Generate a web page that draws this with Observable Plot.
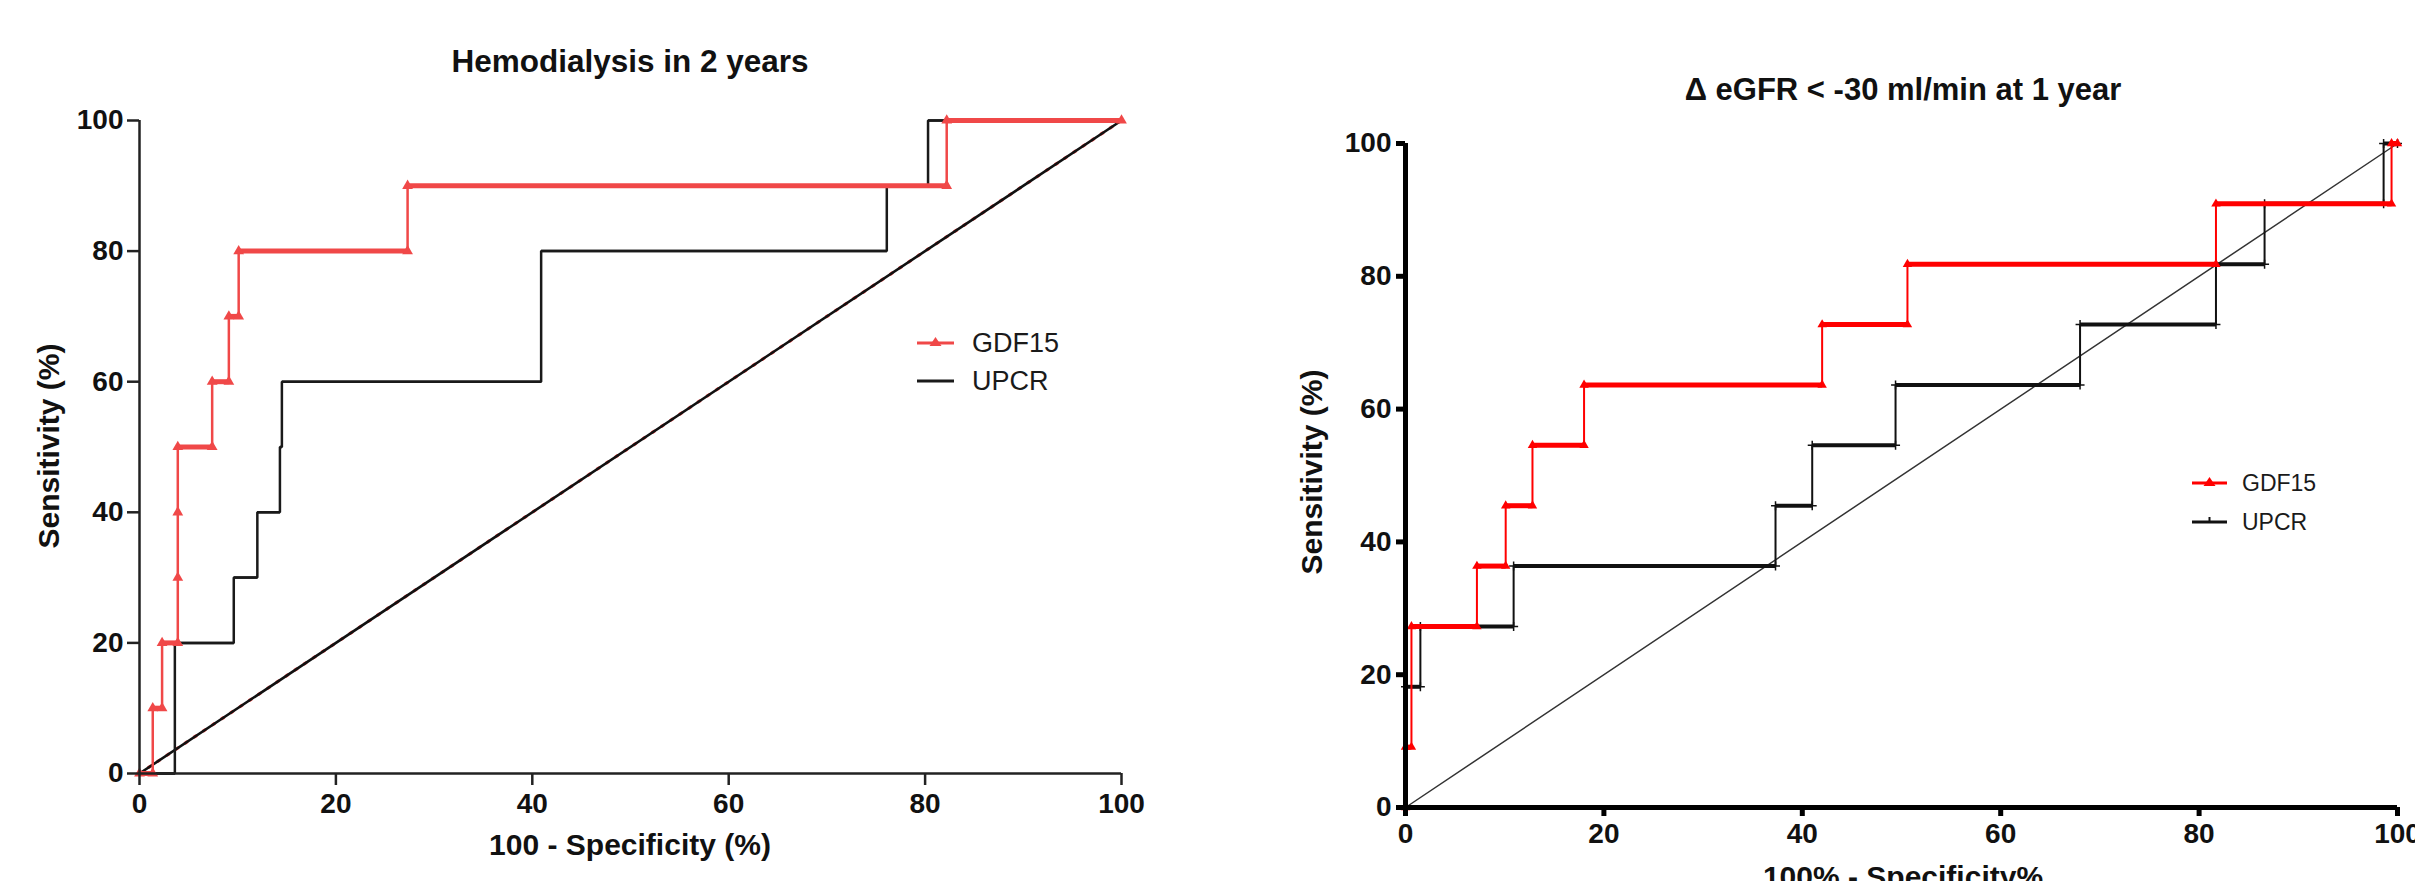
<!DOCTYPE html>
<html><head><meta charset="utf-8">
<script src="https://cdn.jsdelivr.net/npm/d3@7"></script>
<script src="https://cdn.jsdelivr.net/npm/@observablehq/plot@0.6"></script>
<style>
html,body{margin:0;padding:0;background:#fff;overflow:hidden;}
#root{position:relative;width:2415px;height:881px;font-family:"Liberation Sans",Arial,sans-serif;color:#111;}
.abs{position:absolute;white-space:nowrap;line-height:1;}
.panel{position:absolute;top:0;}
</style></head>
<body><div id="root"></div>
<script>
// ---------- DATA ----------
const axisTicks = [0, 20, 40, 60, 80, 100];
const seriesNames = ["GDF15", "UPCR"];
const diagonal = [0, 100];

// Panel 1: Hemodialysis in 2 years (100 - specificity %, sensitivity %)
const hdGdf15Fpr = [0, 1.35, 1.35, 2.3, 2.3, 3.9, 3.9, 3.9, 3.9, 7.4, 7.4, 9.1, 9.1, 10.1, 10.1, 27.3, 27.3, 82.2, 82.2, 100];
const hdGdf15Tpr = [0, 0, 10, 10, 20, 20, 30, 40, 50, 50, 60, 60, 70, 70, 80, 80, 90, 90, 100, 100];
const hdUpcrFpr = [0, 3.6, 3.6, 9.6, 9.6, 12.0, 12.0, 14.3, 14.3, 14.5, 14.5, 40.9, 40.9, 76.1, 76.1, 80.3, 80.3, 100];
const hdUpcrTpr = [0, 0, 20, 20, 30, 30, 40, 40, 50, 50, 60, 60, 80, 80, 90, 90, 100, 100];

// Panel 2: Δ eGFR < -30 ml/min at 1 year
const egGdf15Fpr = [0, 0, 0.6, 0.6, 7.2, 7.2, 10.1, 10.1, 12.8, 12.8, 18.0, 18.0, 42.0, 42.0, 50.6, 50.6, 81.7, 81.7, 99.4, 99.4, 100];
const egGdf15Tpr = [0, 9.09, 9.09, 27.27, 27.27, 36.36, 36.36, 45.45, 45.45, 54.55, 54.55, 63.64, 63.64, 72.73, 72.73, 81.82, 81.82, 90.91, 90.91, 100, 100];
const egUpcrFpr = [0, 0, 1.5, 1.5, 10.9, 10.9, 37.3, 37.3, 41.0, 41.0, 49.4, 49.4, 68.0, 68.0, 81.7, 81.7, 86.6, 86.6, 98.6, 98.6, 100];
const egUpcrTpr = [0, 18.18, 18.18, 27.27, 27.27, 36.36, 36.36, 45.45, 45.45, 54.55, 54.55, 63.64, 63.64, 72.73, 72.73, 81.82, 81.82, 90.91, 90.91, 100, 100];

const titles = ["Hemodialysis in 2 years", "\u0394 eGFR < -30 ml/min at 1 year"];
const xTitles = ["100 - Specificity (%)", "100% - Specificity%"];
const yTitle = "Sensitivity (%)";

// ---------- BUILD ----------
function rows(fpr, tpr) { return fpr.map((x, i) => ({x, y: tpr[i]})); }
function hsegs(r) {
  const out = [];
  for (let i = 1; i < r.length; i++) if (r[i].y === r[i-1].y && r[i].x !== r[i-1].x) out.push({x1: r[i-1].x, x2: r[i].x, y: r[i].y});
  return out;
}

const panels = [
  {
    left: 0, width: 1200, mL: 139, mR: 79, mT: 120, mB: 108,
    axisColor: "#222", axisW: 2.5, tickSize: 12, tickPadX: 8, tickPadY: 4, tickFont: 28,
    diagColor: "#111", diagW: 2.6, diagUnder: "#f04848",
    series: [
      {name: seriesNames[1], data: rows(hdUpcrFpr, hdUpcrTpr), color: "#1a1a1a", lineW: 2.5, thickW: 2.5, symbol: null, r: 0},
      {name: seriesNames[0], data: rows(hdGdf15Fpr, hdGdf15Tpr), color: "#f04848", lineW: 2.5, thickW: 5, symbol: "triangle", r: 4}
    ],
    title: titles[0], titleX: 630, titleTop: 46, titleFont: 31.5,
    xTitle: xTitles[0], xTitleX: 630, xTitleTop: 830,
    yTitleX: 49, yTitleY: 446,
    legend: {x1: 917, x2: 954, tx: 972, ys: [343, 381], font: 27}
  },
  {
    left: 1200, width: 1215, mL: 205, mR: 18, mT: 143, mB: 74,
    axisColor: "#000", axisW: 5, tickSize: 9, tickPadX: 7, tickPadY: 5, tickFont: 28,
    diagColor: "#333", diagW: 1.5, diagUnder: null,
    series: [
      {name: seriesNames[1], data: rows(egUpcrFpr, egUpcrTpr), color: "#111", lineW: 2, thickW: 4, symbol: "plus", r: 3},
      {name: seriesNames[0], data: rows(egGdf15Fpr, egGdf15Tpr), color: "#ff0000", lineW: 2, thickW: 5, symbol: "triangle", r: 3.5}
    ],
    title: titles[1], titleX: 1903, titleTop: 74, titleFont: 31,
    xTitle: xTitles[1], xTitleX: 1903, xTitleTop: 862,
    yTitleX: 1312, yTitleY: 472,
    legend: {x1: 2192, x2: 2227, tx: 2242, ys: [483, 522], font: 23}
  }
];

const root = document.getElementById("root");

function addText(txt, css) {
  const d = document.createElement("div");
  d.className = "abs";
  d.textContent = txt;
  Object.assign(d.style, css);
  root.appendChild(d);
  return d;
}

panels.forEach(p => {
  const marks = [];
  if (p.diagUnder) marks.push(Plot.line(diagonal, {x: d => d, y: d => d, stroke: p.diagUnder, strokeWidth: p.diagW + 0.6, strokeDasharray: "2,9"}));
  marks.push(Plot.line(diagonal, {x: d => d, y: d => d, stroke: p.diagColor, strokeWidth: p.diagW}));
  p.series.forEach(s => {
    marks.push(Plot.line(s.data, {x: "x", y: "y", stroke: s.color, strokeWidth: s.lineW, strokeLinejoin: "miter"}));
    marks.push(Plot.link(hsegs(s.data), {x1: "x1", x2: "x2", y1: "y", y2: "y", stroke: s.color, strokeWidth: s.thickW}));
    if (s.symbol === "triangle") marks.push(Plot.dot(s.data, {x: "x", y: "y", symbol: "triangle", r: s.r, fill: s.color, stroke: "none"}));
    else if (s.symbol) marks.push(Plot.dot(s.data, {x: "x", y: "y", symbol: s.symbol, r: s.r, stroke: s.color, strokeWidth: 1.5}));
  });
  marks.push(Plot.ruleX([0], {stroke: p.axisColor, strokeWidth: p.axisW}));
  marks.push(Plot.ruleY([0], {stroke: p.axisColor, strokeWidth: p.axisW}));
  marks.push(Plot.axisX({ticks: axisTicks, tickSize: p.tickSize, tickPadding: p.tickPadX, strokeWidth: p.axisW, stroke: p.axisColor, label: null, tickFormat: d => d, fontSize: p.tickFont, fontWeight: "bold"}));
  marks.push(Plot.axisY({ticks: axisTicks, tickSize: p.tickSize, tickPadding: p.tickPadY, strokeWidth: p.axisW, stroke: p.axisColor, label: null, tickFormat: d => d, fontSize: p.tickFont, fontWeight: "bold"}));

  const svg = Plot.plot({
    width: p.width, height: 881,
    marginLeft: p.mL, marginRight: p.mR, marginTop: p.mT, marginBottom: p.mB,
    x: {domain: [0, 100]}, y: {domain: [0, 100]},
    style: {fontFamily: "'Liberation Sans', Arial, sans-serif", color: "#111", background: "transparent", overflow: "visible", maxWidth: "none"},
    marks
  });
  const wrap = document.createElement("div");
  wrap.className = "panel";
  wrap.style.left = p.left + "px";
  wrap.style.width = p.width + "px";
  wrap.appendChild(svg);
  root.appendChild(wrap);

  addText(p.title, {left: p.titleX + "px", top: p.titleTop + "px", transform: "translateX(-50%)", fontSize: p.titleFont + "px", fontWeight: "bold"});
  addText(p.xTitle, {left: p.xTitleX + "px", top: p.xTitleTop + "px", transform: "translateX(-50%)", fontSize: "30px", fontWeight: "bold"});
  addText(yTitle, {left: p.yTitleX + "px", top: p.yTitleY + "px", transform: "translate(-50%,-50%) rotate(-90deg)", fontSize: "30px", fontWeight: "bold"});

  const ordered = [p.series[1], p.series[0]];
  ordered.forEach((s, i) => {
    const L = p.legend, h = 30, w = L.x2 - L.x1;
    const row = document.createElement("div");
    row.className = "abs";
    Object.assign(row.style, {left: L.x1 + "px", top: (L.ys[i] - h / 2) + "px", height: h + "px", display: "flex", alignItems: "center"});
    const ns = "http://www.w3.org/2000/svg";
    const sw = document.createElementNS(ns, "svg");
    sw.setAttribute("width", w); sw.setAttribute("height", h);
    const ln = document.createElementNS(ns, "line");
    ln.setAttribute("x1", 0); ln.setAttribute("x2", w); ln.setAttribute("y1", h / 2); ln.setAttribute("y2", h / 2);
    ln.setAttribute("stroke", s.color); ln.setAttribute("stroke-width", 3);
    sw.appendChild(ln);
    if (s.symbol === "triangle") {
      const t = document.createElementNS(ns, "path");
      const c = w / 2, r = 6;
      t.setAttribute("d", `M${c},${h/2 - r}L${c + r},${h/2 + 3}L${c - r},${h/2 + 3}Z`);
      t.setAttribute("fill", s.color);
      sw.appendChild(t);
    } else if (s.symbol) {
      const t = document.createElementNS(ns, "line");
      t.setAttribute("x1", w / 2); t.setAttribute("x2", w / 2); t.setAttribute("y1", h / 2 - 5); t.setAttribute("y2", h / 2);
      t.setAttribute("stroke", s.color); t.setAttribute("stroke-width", 2);
      sw.appendChild(t);
    }
    row.appendChild(sw);
    const sp = document.createElement("span");
    sp.textContent = s.name;
    Object.assign(sp.style, {marginLeft: (L.tx - L.x2) + "px", fontSize: L.font + "px", color: "#1a1a1a"});
    row.appendChild(sp);
    root.appendChild(row);
  });
});
</script>
</body></html>
